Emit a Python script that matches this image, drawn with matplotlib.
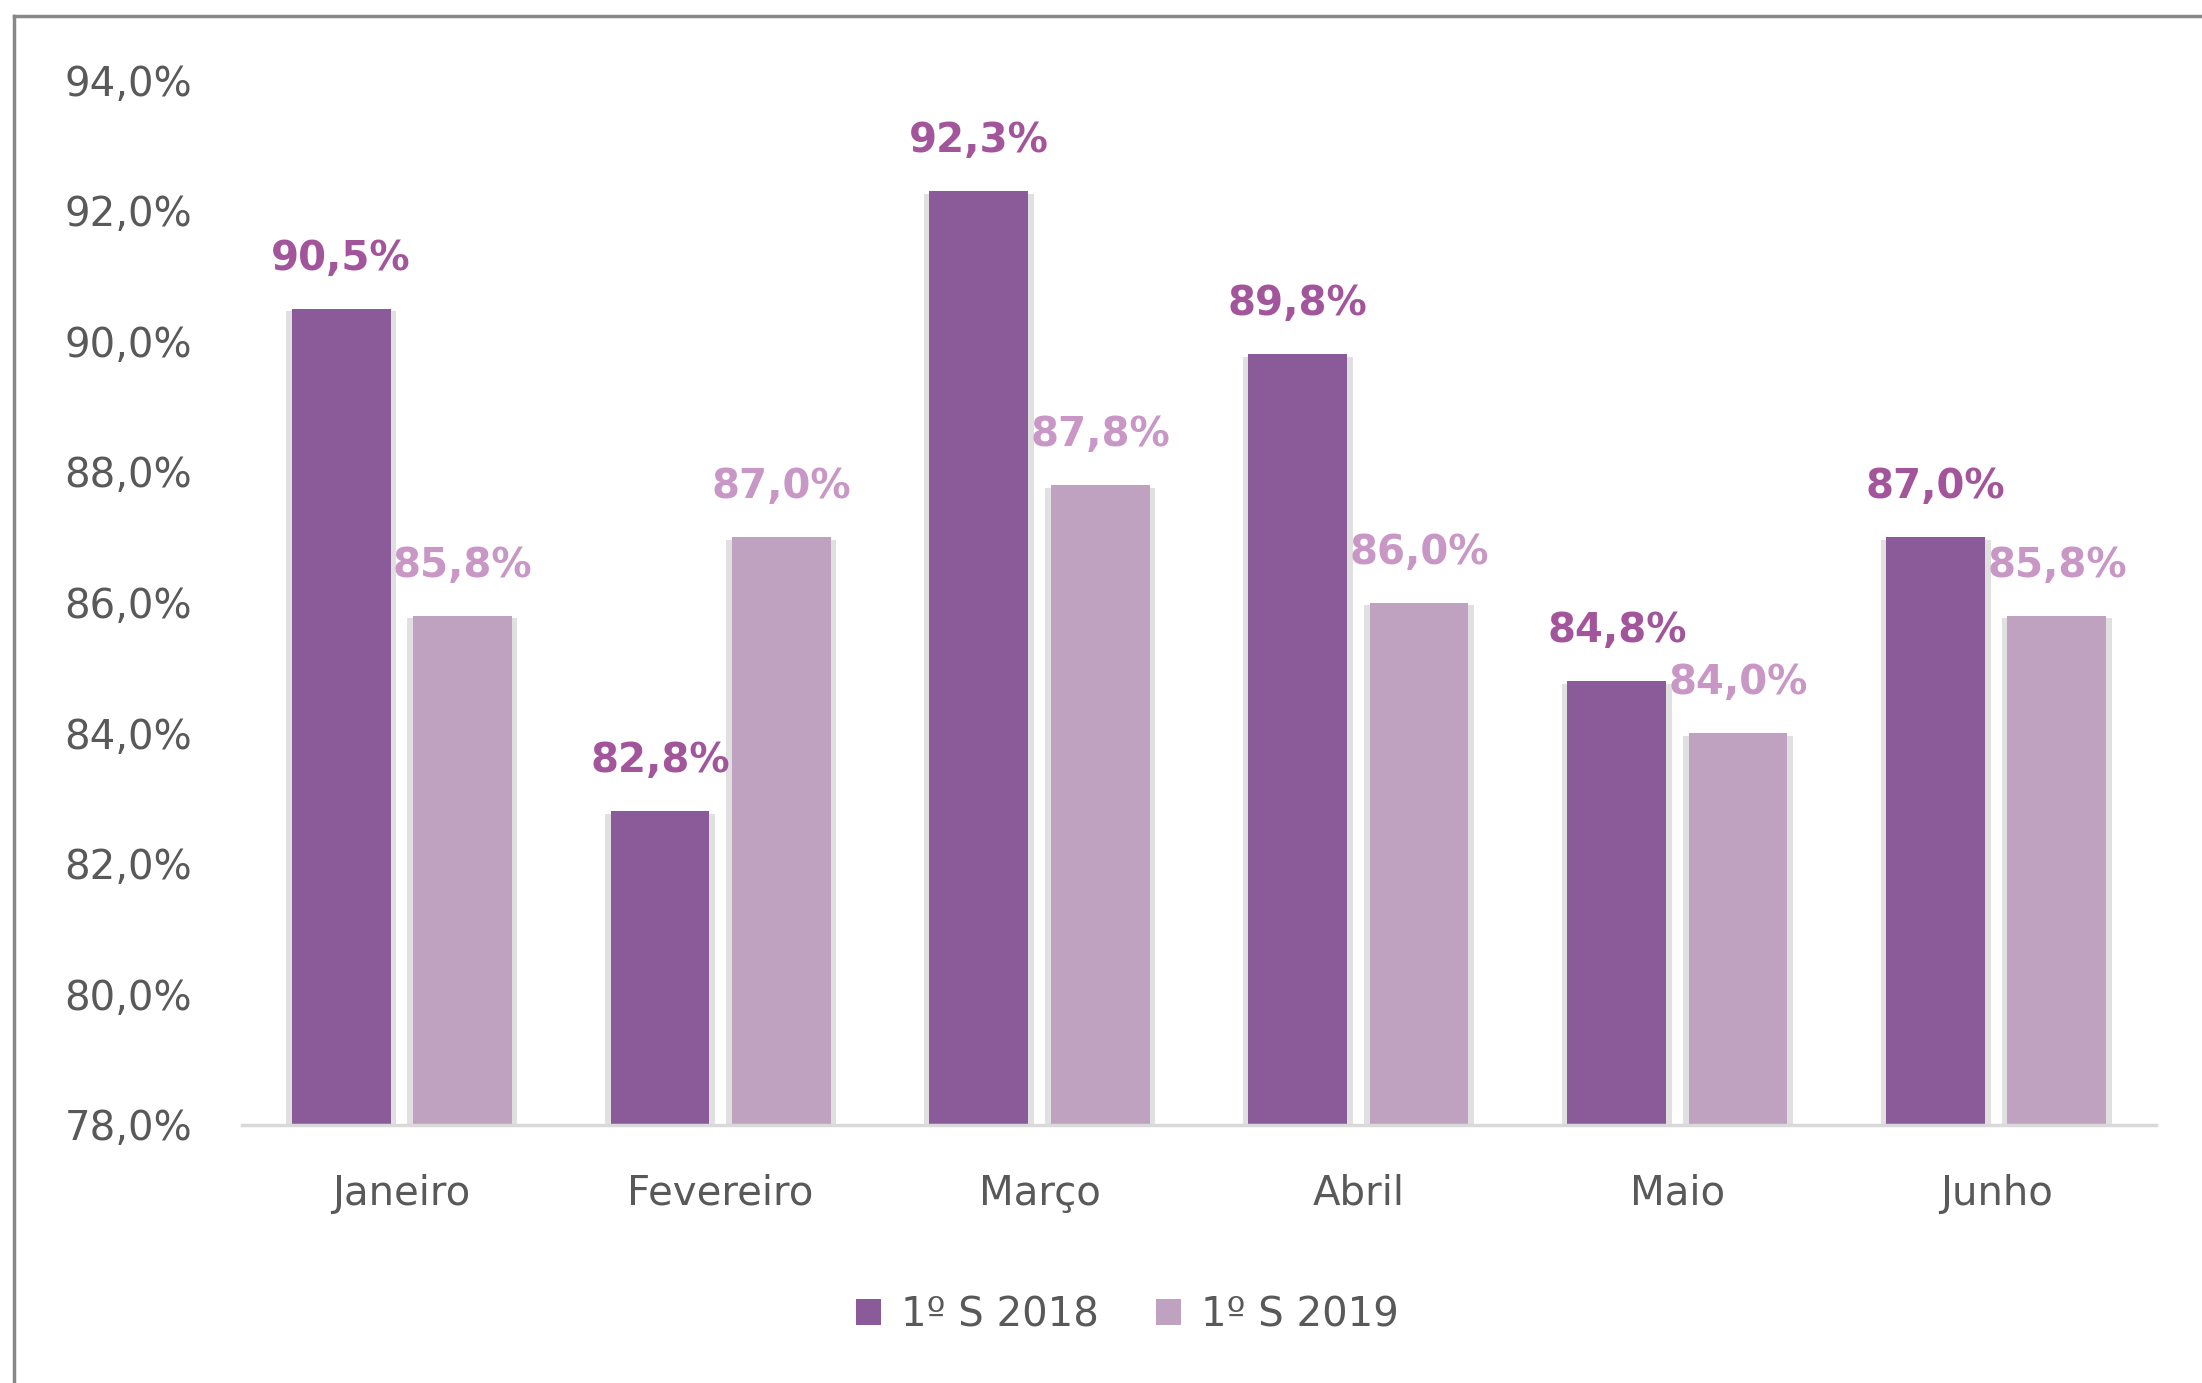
import numpy as np
import matplotlib
matplotlib.use("Agg")
import matplotlib.pyplot as plt
import matplotlib.patheffects as pe
from matplotlib.lines import Line2D

months = ["Janeiro", "Fevereiro", "Março", "Abril", "Maio", "Junho"]
s2018 = [90.5, 82.8, 92.3, 89.8, 84.8, 87.0]
s2019 = [85.8, 87.0, 87.8, 86.0, 84.0, 85.8]
series_names = ["1º S 2018", "1º S 2019"]
yticks = [78, 80, 82, 84, 86, 88, 90, 92, 94]

bar_colors = ["#8A5A99", "#BFA1C0"]
label_colors = ["#A2559A", "#C897C5"]
text_gray = "#595959"

plt.rcParams["font.family"] = ["DejaVu Sans"]

fig = plt.figure(figsize=(22.02, 13.83), dpi=100)
ax = fig.add_axes([0.110, 0.1866, 0.869, 0.7555])

x = np.arange(len(months))
width = 0.31
offset = 0.19

# soft grey shadow around each bar
shadow = [pe.SimplePatchShadow(offset=(0, -3), shadow_rgbFace="#9a9a9a", alpha=0.35, rho=1),
          pe.SimplePatchShadow(offset=(4, -2), shadow_rgbFace="#a8a8a8", alpha=0.35, rho=1),
          pe.SimplePatchShadow(offset=(-4, -2), shadow_rgbFace="#a8a8a8", alpha=0.35, rho=1),
          pe.Normal()]

for i, (vals, off) in enumerate([(s2018, -offset), (s2019, offset)]):
    bars = ax.bar(x + off, np.array(vals) - 78, width, bottom=78,
                  color=bar_colors[i], label=series_names[i], zorder=3)
    for b in bars:
        b.set_path_effects(shadow)
    for xi, v in zip(x + off, vals):
        ax.annotate(f"{v:.1f}%".replace(".", ","), (xi, v), xytext=(0, 36),
                    textcoords="offset points", ha="center", va="center",
                    fontsize=29, fontweight="bold", color=label_colors[i], zorder=5)

ax.set_xlim(-0.5, len(months) - 0.5)
ax.set_ylim(78, 94)
ax.set_yticks(yticks)
ax.set_yticklabels([f"{t:.1f}%".replace(".", ",") for t in yticks])
ax.set_xticks(x)
ax.set_xticklabels(months)
ax.tick_params(axis="both", length=0, labelsize=29, colors=text_gray)
ax.tick_params(axis="y", pad=36)
ax.tick_params(axis="x", pad=35)

for s in ["top", "right", "left"]:
    ax.spines[s].set_visible(False)
ax.spines["bottom"].set_color("#D9D9D9")
ax.spines["bottom"].set_linewidth(2.5)
ax.spines["bottom"].set_zorder(4)

leg = fig.legend(loc="center", bbox_to_anchor=(0.512, 0.049), ncol=2, frameon=False,
                 fontsize=29, handlelength=0.62, handleheight=0.62,
                 handletextpad=0.5, columnspacing=1.4)
for t in leg.get_texts():
    t.set_color(text_gray)
for h in leg.legend_handles:
    h.set_path_effects([])

# outer frame (left and top edges only)
fig.add_artist(Line2D([14 / 2202, 14 / 2202], [0, 1 - 16 / 1383],
                      transform=fig.transFigure, color="#888888", linewidth=2.5))
fig.add_artist(Line2D([14 / 2202, 1], [1 - 16 / 1383, 1 - 16 / 1383],
                      transform=fig.transFigure, color="#888888", linewidth=2.5))

fig.savefig("out.png", dpi=100)
